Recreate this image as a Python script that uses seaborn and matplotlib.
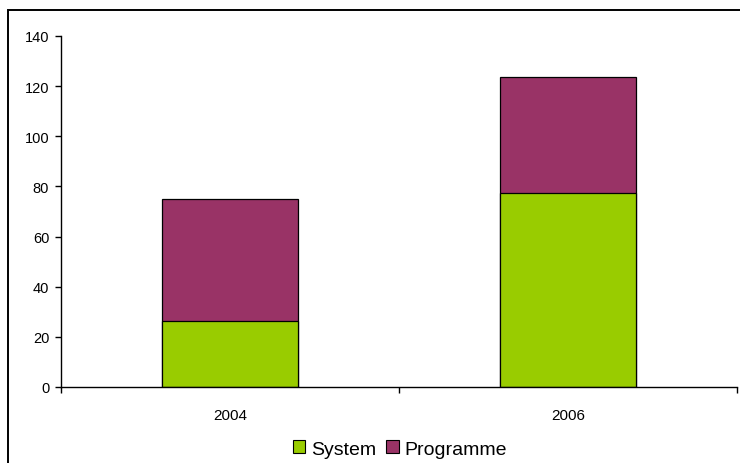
import matplotlib
matplotlib.use("Agg")
import matplotlib.pyplot as plt
import seaborn as sns
import pandas as pd
from matplotlib.patches import Rectangle, Patch

years = ["2004", "2006"]
system = [26.5, 77.5]
programme = [48.5, 46.0]
series_names = ["System", "Programme"]
colors = ["#99CC00", "#993366"]

totals = [s + p for s, p in zip(system, programme)]
df = pd.DataFrame({"year": years, "System": system, "Total": totals})

sns.set_style("white")
plt.rcParams["font.family"] = ["Liberation Sans", "DejaVu Sans"]
plt.rcParams["text.color"] = "black"
plt.rcParams["xtick.color"] = "black"
plt.rcParams["ytick.color"] = "black"

fig = plt.figure(figsize=(7.4, 4.64), dpi=100)
ax = fig.add_axes([61/740, 1-388/464, (737-61)/740, (388-37)/464])

sns.barplot(data=df, x="year", y="Total", color=colors[1], width=0.4,
            edgecolor="black", linewidth=0.9, saturation=1, ax=ax)
sns.barplot(data=df, x="year", y="System", color=colors[0], width=0.4,
            edgecolor="black", linewidth=0.9, saturation=1, ax=ax)

ax.set_ylim(0, 140)
ax.set_yticks(range(0, 141, 20))
ax.set_xlim(-0.5, 1.5)
ax.set_xlabel("")
ax.set_ylabel("")
for s in ["top", "right"]:
    ax.spines[s].set_visible(False)
for s in ["left", "bottom"]:
    ax.spines[s].set_color("black")
    ax.spines[s].set_linewidth(1.0)

ax.tick_params(axis="y", which="major", direction="out", length=4.5, width=1,
               color="black", labelsize=10.5, labelcolor="black", pad=4, left=True)
ax.set_xticks([-0.5, 0.5, 1.5], minor=True)
ax.tick_params(axis="x", which="minor", direction="out", length=4.5, width=1,
               color="black", bottom=True)
ax.tick_params(axis="x", which="major", length=0, labelsize=11, labelcolor="black", pad=15)

handles = [Patch(facecolor=c, edgecolor="black", linewidth=0.8) for c in colors]
fig.legend(handles, series_names, loc="center", bbox_to_anchor=(400/740, 1-450/464),
           ncol=2, frameon=False, fontsize=14, handlelength=0.65, handleheight=0.65,
           handletextpad=0.3, columnspacing=0.5, labelcolor="black")

fig.patches.append(Rectangle((8/740, -0.1), 1.2, 1-10.5/464+0.1, transform=fig.transFigure,
                             fill=False, edgecolor="black", linewidth=1.4, zorder=10))

fig.savefig("out.png", dpi=100)
